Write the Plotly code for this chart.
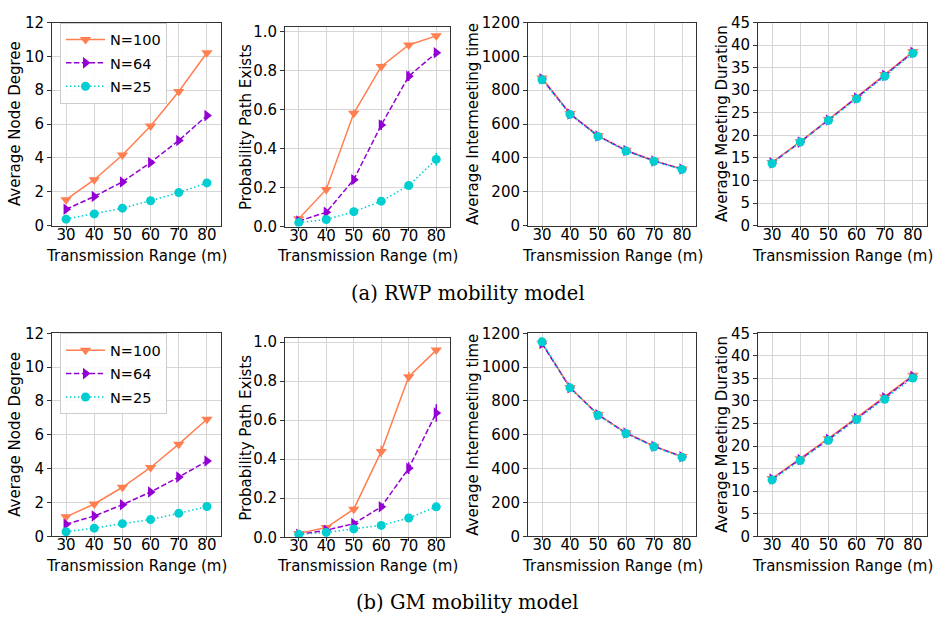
import plotly.graph_objects as go

# Transmission range (m)
ranges = [30, 40, 50, 60, 70, 80]
series_names = ["N=100", "N=64", "N=25"]

# ---- RWP mobility model ----
rwp_degree_100 = [1.53, 2.71, 4.17, 5.89, 7.93, 10.22]
rwp_degree_64 = [0.96, 1.72, 2.58, 3.73, 5.03, 6.50]
rwp_degree_25 = [0.38, 0.69, 1.03, 1.47, 1.95, 2.52]
rwp_degree_err_100 = [0.05, 0.06, 0.07, 0.08, 0.09, 0.10]
rwp_degree_err_64 = [0.04, 0.05, 0.06, 0.07, 0.08, 0.09]
rwp_degree_err_25 = [0.03, 0.04, 0.04, 0.05, 0.05, 0.06]

rwp_path_100 = [0.040, 0.190, 0.580, 0.820, 0.930, 0.977]
rwp_path_64 = [0.028, 0.073, 0.240, 0.520, 0.770, 0.890]
rwp_path_25 = [0.020, 0.036, 0.076, 0.130, 0.210, 0.344]
rwp_path_err_100 = [0.010, 0.020, 0.020, 0.015, 0.010, 0.008]
rwp_path_err_64 = [0.010, 0.010, 0.020, 0.025, 0.025, 0.015]
rwp_path_err_25 = [0.008, 0.010, 0.010, 0.012, 0.015, 0.033]

rwp_inter_100 = [872, 662, 532, 445, 383, 335]
rwp_inter_64 = [868, 660, 530, 444, 382, 334]
rwp_inter_25 = [862, 657, 527, 441, 380, 332]
rwp_inter_err = [12, 8, 6, 5, 4, 4]

rwp_meet_100 = [14.0, 18.6, 23.5, 28.4, 33.5, 38.6]
rwp_meet_64 = [13.9, 18.5, 23.4, 28.3, 33.3, 38.4]
rwp_meet_25 = [13.75, 18.5, 23.3, 28.1, 33.1, 38.2]
rwp_meet_err = [0.3, 0.3, 0.3, 0.3, 0.4, 0.4]

# ---- GM mobility model ----
gm_degree_100 = [1.15, 1.91, 2.90, 4.07, 5.45, 6.92]
gm_degree_64 = [0.71, 1.20, 1.87, 2.62, 3.50, 4.45]
gm_degree_25 = [0.27, 0.48, 0.75, 0.99, 1.36, 1.76]
gm_degree_err_100 = [0.05, 0.06, 0.07, 0.08, 0.09, 0.10]
gm_degree_err_64 = [0.04, 0.05, 0.06, 0.07, 0.08, 0.09]
gm_degree_err_25 = [0.03, 0.04, 0.04, 0.05, 0.05, 0.06]

gm_path_100 = [0.020, 0.050, 0.144, 0.440, 0.823, 0.959]
gm_path_64 = [0.015, 0.036, 0.070, 0.156, 0.354, 0.637]
gm_path_25 = [0.015, 0.025, 0.043, 0.061, 0.099, 0.156]
gm_path_err_100 = [0.005, 0.010, 0.015, 0.030, 0.025, 0.010]
gm_path_err_64 = [0.005, 0.008, 0.010, 0.015, 0.030, 0.045]
gm_path_err_25 = [0.005, 0.005, 0.008, 0.008, 0.010, 0.012]

gm_inter_100 = [1142, 880, 720, 612, 533, 472]
gm_inter_64 = [1140, 879, 719, 611, 532, 471]
gm_inter_25 = [1150, 878, 716, 608, 529, 468]
gm_inter_err = [15, 10, 8, 6, 5, 5]

gm_meet_100 = [12.8, 17.2, 21.7, 26.3, 30.9, 35.7]
gm_meet_64 = [12.7, 17.0, 21.5, 26.1, 30.7, 35.5]
gm_meet_25 = [12.5, 16.8, 21.3, 25.9, 30.4, 35.1]
gm_meet_err = [0.3, 0.3, 0.3, 0.3, 0.4, 0.4]

x_title = "Transmission Range (m)"
y_titles = ["Average Node Degree", "Probability Path Exists",
            "Average Intermeeting time", "Average Meeting Duration"]
captions = ["(a) RWP mobility model", "(b) GM mobility model"]

W, H = 935, 623
colors = ["#FF7F50", "#9400D3", "#00CED1"]
symbols = ["triangle-down", "triangle-right", "circle"]
dashes = ["solid", "5.5px,2.4px", "1.5px,2.5px"]
msizes = [10, 10, 9]

# per-panel data: (values for three series, error bars for three series)
rows = [
    [
        ([rwp_degree_100, rwp_degree_64, rwp_degree_25],
         [rwp_degree_err_100, rwp_degree_err_64, rwp_degree_err_25]),
        ([rwp_path_100, rwp_path_64, rwp_path_25],
         [rwp_path_err_100, rwp_path_err_64, rwp_path_err_25]),
        ([rwp_inter_100, rwp_inter_64, rwp_inter_25],
         [rwp_inter_err, rwp_inter_err, rwp_inter_err]),
        ([rwp_meet_100, rwp_meet_64, rwp_meet_25],
         [rwp_meet_err, rwp_meet_err, rwp_meet_err]),
    ],
    [
        ([gm_degree_100, gm_degree_64, gm_degree_25],
         [gm_degree_err_100, gm_degree_err_64, gm_degree_err_25]),
        ([gm_path_100, gm_path_64, gm_path_25],
         [gm_path_err_100, gm_path_err_64, gm_path_err_25]),
        ([gm_inter_100, gm_inter_64, gm_inter_25],
         [gm_inter_err, gm_inter_err, gm_inter_err]),
        ([gm_meet_100, gm_meet_64, gm_meet_25],
         [gm_meet_err, gm_meet_err, gm_meet_err]),
    ],
]

# panel geometry in pixels (left, right) and (top, bottom)
col_px = [(52, 221), (285, 450), (528, 696), (758, 927)]
row_px = [[(14, 223), (19, 224), (14, 223), (14, 223)],
          [(334, 543), (339, 544), (334, 543), (334, 543)]]
y_ranges = [[0, 12], [0, 1.02], [0, 1200], [0, 45]]
y_dticks = [2, 0.2, 200, 5]
y_formats = ["d", ".1f", "d", "d"]
ytitle_x = [15, 246, 473, 722]
xtitle_y = [254, 574]
caption_y = [293, 611]


def px_x(p):
    return p / W


def px_y(p):
    return 1 - p / H


fig = go.Figure()
layout = {}
annotations = []
font_family = "DejaVu Sans"
tick_font = dict(family=font_family, size=15, color="#000000")
title_font = dict(family=font_family, size=15, color="#000000")

idx = 0
for r, row in enumerate(rows):
    for c, (vals, errs) in enumerate(row):
        idx += 1
        xa = "xaxis" if idx == 1 else f"xaxis{idx}"
        ya = "yaxis" if idx == 1 else f"yaxis{idx}"
        xref = "x" if idx == 1 else f"x{idx}"
        yref = "y" if idx == 1 else f"y{idx}"
        legend_name = "legend" if r == 0 else "legend2"
        for s in range(3):
            fig.add_trace(go.Scatter(
                x=ranges, y=vals[s], name=series_names[s],
                mode="lines+markers",
                line=dict(color=colors[s], width=1.5, dash=dashes[s]),
                marker=dict(symbol=symbols[s], size=msizes[s], color=colors[s],
                            line=dict(width=0)),
                error_y=dict(type="data", array=errs[s], visible=True,
                             color=colors[s], thickness=1.5, width=0),
                xaxis=xref, yaxis=yref,
                legendgroup=f"{legend_name}-{series_names[s]}",
                showlegend=(c == 0), legend=legend_name,
            ))
        l, rr = col_px[c]
        t, b = row_px[r][c]
        layout[xa] = dict(
            domain=[px_x(l), px_x(rr)], range=[25, 85], anchor=yref,
            tickmode="array", tickvals=ranges, ticktext=[str(v) for v in ranges],
            showline=True, mirror=True, linecolor="#333333", linewidth=1,
            ticks="outside", ticklen=3, tickcolor="#333333",
            ticklabelstandoff=-8,
            showgrid=True, gridcolor="#d6d6d6", gridwidth=1,
            zeroline=False, tickfont=tick_font, fixedrange=True,
        )
        layout[ya] = dict(
            domain=[px_y(b), px_y(t)], range=y_ranges[c], anchor=xref,
            tick0=0, dtick=y_dticks[c], tickformat=y_formats[c],
            showline=True, mirror=True, linecolor="#333333", linewidth=1,
            ticks="outside", ticklen=4, tickcolor="#333333",
            showgrid=True, gridcolor="#d6d6d6", gridwidth=1,
            zeroline=False, tickfont=tick_font, fixedrange=True,
        )
        # axis titles
        annotations.append(dict(
            text=x_title, xref="paper", yref="paper",
            x=px_x((l + rr) / 2), y=px_y(xtitle_y[r]),
            xanchor="center", yanchor="middle", showarrow=False,
            font=title_font,
        ))
        annotations.append(dict(
            text=y_titles[c], xref="paper", yref="paper",
            x=px_x(ytitle_x[c]), y=px_y((t + b) / 2), textangle=-90,
            xanchor="center", yanchor="middle", showarrow=False,
            font=title_font,
        ))

for r in range(2):
    annotations.append(dict(
        text=captions[r], xref="paper", yref="paper",
        x=px_x(468), y=px_y(caption_y[r]),
        xanchor="center", yanchor="middle", showarrow=False,
        font=dict(family="DejaVu Serif", size=19.5, color="#000000"),
    ))

legend_style = dict(
    xanchor="left", yanchor="top", bgcolor="rgba(255,255,255,0.9)",
    bordercolor="#cccccc", borderwidth=1,
    font=dict(family=font_family, size=14.5, color="#000000"),
    itemwidth=39, tracegroupgap=1.5,
)
fig.update_layout(
    width=W, height=H,
    margin=dict(l=0, r=0, t=0, b=0),
    paper_bgcolor="white", plot_bgcolor="white",
    annotations=annotations,
    legend=dict(x=px_x(60), y=px_y(14), **legend_style),
    legend2=dict(x=px_x(60), y=px_y(334), **legend_style),
    **layout,
)

fig.write_html("out.html")
